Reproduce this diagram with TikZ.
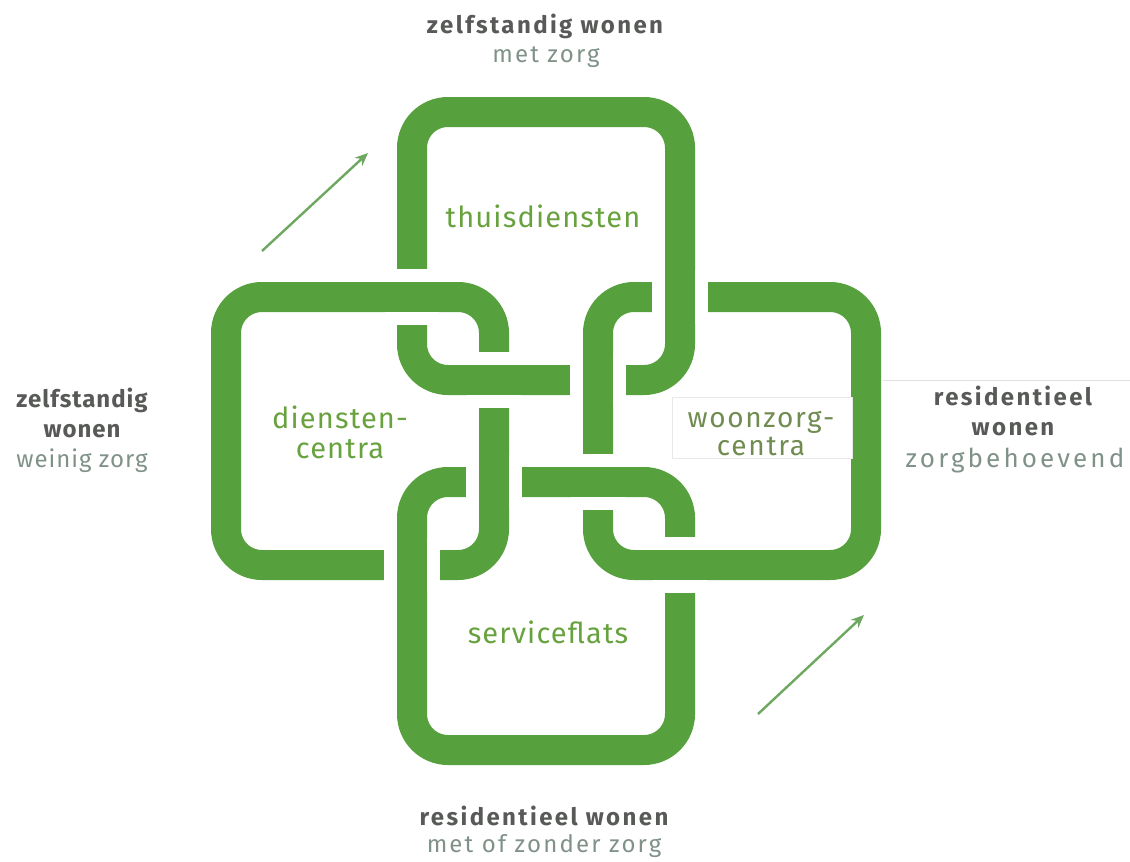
\documentclass[tikz,border=0pt]{standalone}
\usepackage{fontspec}
\setmainfont{Fira Sans}
\newfontfamily\headfont[LetterSpace=10]{Fira Sans}
\newfontfamily\headfontleft[LetterSpace=4]{Fira Sans}
\newfontfamily\subfont[LetterSpace=9]{Fira Sans}
\newfontfamily\subfontwide[LetterSpace=12]{Fira Sans}
\newfontfamily\innerfont[LetterSpace=4]{Fira Sans}
\newfontfamily\wzfont[LetterSpace=6]{Fira Sans}
\usetikzlibrary{arrows.meta}
\definecolor{ringgreen}{RGB}{86,160,62}
\definecolor{labelgreen}{RGB}{104,162,62}
\definecolor{darklabel}{RGB}{88,90,88}
\definecolor{sublabel}{RGB}{128,146,136}
\definecolor{olivelabel}{RGB}{112,140,80}
\definecolor{arrowgreen}{RGB}{110,168,96}
\newcommand\overpiece[2]{\draw[casing] #1 -- #2; \draw[band] #1 -- #2;}
\begin{document}
\begin{tikzpicture}[x=1pt,y=-1pt,
  ringline/.style={draw=ringgreen, line width=30pt, rounded corners=36pt},
  casing/.style={draw=white, line width=56pt, line cap=butt},
  band/.style={draw=ringgreen, line width=30pt, line cap=butt},
  txt/.style={inner sep=0pt, anchor=base},
  inner/.style={txt, text=labelgreen, font=\innerfont\fontsize{29}{34}\selectfont},
  head/.style={txt, text=darklabel, font=\headfont\bfseries\fontsize{24}{30}\selectfont},
  headleft/.style={txt, text=darklabel, font=\headfontleft\bfseries\fontsize{24}{30}\selectfont},
  sub/.style={txt, text=sublabel, font=\subfont\fontsize{24}{30}\selectfont},
  flow/.style={draw=arrowgreen, line width=2.4pt, -{Stealth[length=13pt,width=11pt]}}]
\useasboundingbox (0,0) rectangle (1130,862);
% rings
\draw[ringline] (412,112) rectangle (680,380); % top
\draw[ringline] (226,297) rectangle (494,565); % left
\draw[ringline] (598,297) rectangle (866,565); % right
\draw[ringline] (412,482) rectangle (680,750); % bottom
% crossings (over pieces)
\overpiece{(385,297)}{(439,297)}
\overpiece{(467,380)}{(521,380)}
\overpiece{(680,270)}{(680,324)}
\overpiece{(598,353)}{(598,407)}
\overpiece{(571,482)}{(625,482)}
\overpiece{(653,565)}{(707,565)}
\overpiece{(494,455)}{(494,509)}
\overpiece{(412,538)}{(412,592)}
% thin rule
\coordinate (ruleA) at (883,380);
\coordinate (ruleB) at (1130,380);
\draw[draw=black!12, line width=1pt] (ruleA) -- (ruleB);
% ring labels
\node[inner] (thuis) at (543,227) {thuisdiensten};
\node[inner] (dc1) at (340,428) {diensten-};
\node[inner] (dc2) at (340,458) {centra};
\node[draw=black!9, fill=white, line width=0.8pt, minimum width=180pt, minimum height=61pt] (wzbox) at (762,428) {};
\node[txt, text=olivelabel, font=\wzfont\fontsize{28}{32}\selectfont] (wz1) at (761,427) {woonzorg-};
\node[txt, text=olivelabel, font=\wzfont\fontsize{28}{32}\selectfont] (wz2) at (761,455) {centra};
\node[inner] (sf) at (548,643) {serviceflats};
% outer labels
\node[head] (t1) at (545,33) {zelfstandig wonen};
\node[sub] (t2) at (546,62) {met zorg};
\node[headleft] (l1) at (82,407) {zelfstandig};
\node[headleft] (l2) at (82,437) {wonen};
\node[sub, font=\headfontleft\fontsize{24}{30}\selectfont] (l3) at (82,467) {weinig zorg};
\node[head] (r1) at (1013,405) {residentieel};
\node[head] (r2) at (1013,435) {wonen};
\node[sub, font=\subfontwide\fontsize{26}{31}\selectfont] (r3) at (1015,467) {zorgbehoevend};
\node[head] (b1) at (544,825) {residentieel wonen};
\node[sub] (b2) at (544,852) {met of zonder zorg};
% arrows
\coordinate (a1s) at (262,251);
\coordinate (a1e) at (368,153);
\coordinate (a2s) at (758,714);
\coordinate (a2e) at (864,615);
\draw[flow] (a1s) -- (a1e);
\draw[flow] (a2s) -- (a2e);
\end{tikzpicture}
\end{document}
